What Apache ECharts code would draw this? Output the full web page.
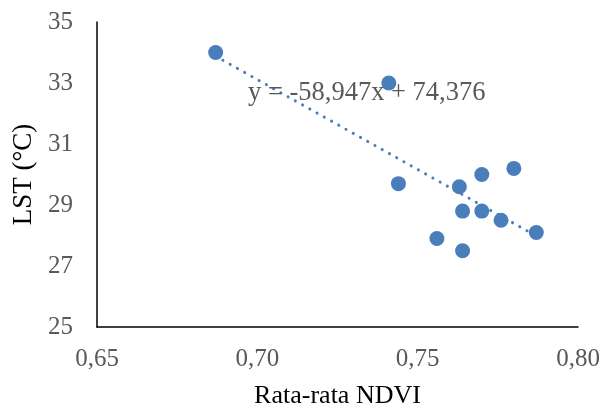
<!DOCTYPE html>
<html>
<head>
<meta charset="utf-8">
<script src="https://cdn.jsdelivr.net/npm/echarts@6/dist/echarts.min.js"></script>
<style>
  html, body { margin: 0; padding: 0; background: #fff; }
  #chart { width: 603px; height: 412px; }
</style>
</head>
<body>
<div id="chart"></div>
<script>
var ndvi = [0.687, 0.741, 0.744, 0.763, 0.770, 0.780, 0.764, 0.770, 0.776, 0.787, 0.756, 0.764];
var lst = [34.0, 33.0, 29.7, 29.6, 30.0, 30.2, 28.8, 28.8, 28.5, 28.1, 27.9, 27.5];
var slope = -58.947;
var intercept = 74.376;
var xTicks = [0.65, 0.70, 0.75, 0.80];
var yTicks = [25, 27, 29, 31, 33, 35];

var chart = echarts.init(document.getElementById('chart'));

var points = [];
for (var i = 0; i < ndvi.length; i++) {
    points.push([ndvi[i], lst[i]]);
}
// garis tren dari persamaan regresi
var xMin = Math.min.apply(null, ndvi);
var xMax = Math.max.apply(null, ndvi);
var trend = [[xMin, slope * xMin + intercept], [xMax, slope * xMax + intercept]];

var serif = '"Liberation Serif", "Times New Roman", serif';

var option = {
    animation: false,
    grid: {
        left: 97,
        right: 25,
        top: 22,
        bottom: 85,
        containLabel: false,
        outerBoundsMode: 'none'
    },
    xAxis: {
        type: 'value',
        min: xTicks[0],
        max: xTicks[xTicks.length - 1],
        interval: 0.05,
        name: 'Rata-rata NDVI',
        nameLocation: 'middle',
        nameGap: 56,
        nameTextStyle: { fontFamily: serif, fontSize: 26, color: '#000' },
        axisLine: { lineStyle: { color: '#000', width: 1.5 } },
        axisTick: { show: false },
        splitLine: { show: false },
        axisLabel: {
            margin: 20,
            fontFamily: serif,
            fontSize: 25,
            color: '#595959',
            formatter: function (v) { return v.toFixed(2).replace('.', ','); }
        }
    },
    yAxis: {
        type: 'value',
        min: yTicks[0],
        max: yTicks[yTicks.length - 1],
        interval: 2,
        name: 'LST (°C)',
        nameLocation: 'middle',
        nameGap: 60,
        nameTextStyle: { fontFamily: serif, fontSize: 27, color: '#000' },
        axisLine: { show: true, lineStyle: { color: '#000', width: 1.5 } },
        axisTick: { show: false },
        splitLine: { show: false },
        axisLabel: {
            margin: 24,
            fontFamily: serif,
            fontSize: 25,
            color: '#595959'
        }
    },
    graphic: [{
        type: 'text',
        left: 248,
        top: 80,
        style: {
            text: 'y = -58,947x + 74,376',
            font: '26.5px "Liberation Serif", "Times New Roman", serif',
            fill: '#595959'
        },
        z: 10
    }],
    series: [
        {
            type: 'scatter',
            data: points,
            symbolSize: 15,
            itemStyle: { color: '#4a7ebb', opacity: 1 },
            z: 2
        },
        {
            type: 'line',
            data: trend,
            symbol: 'none',
            lineStyle: {
                color: '#4a7ebb',
                width: 3,
                type: [0.1, 8.2],
                cap: 'round'
            },
            z: 3
        }
    ]
};
chart.setOption(option);
</script>
</body>
</html>
